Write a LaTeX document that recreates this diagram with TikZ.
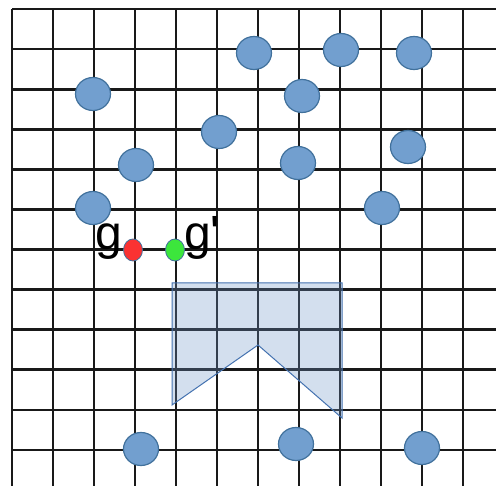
\documentclass[tikz,border=0pt]{standalone}
\usepackage{fontspec}
\setmainfont{Liberation Sans}
\usetikzlibrary{shapes.geometric}
\definecolor{dotfill}{RGB}{114,159,207}
\definecolor{dotline}{RGB}{65,113,156}
\definecolor{polyfill}{RGB}{112,150,200}
\definecolor{polyline}{RGB}{68,114,176}
\definecolor{redpt}{RGB}{250,50,50}
\definecolor{greenpt}{RGB}{60,230,60}
\tikzset{
  gridline/.style={line width=2.8pt, black!90},
  blob/.style={ellipse, draw=dotline, fill=dotfill, line width=1.2pt, minimum width=35pt, minimum height=33pt, inner sep=0pt},
  pt/.style={ellipse, draw=dotline, line width=0.8pt, minimum width=19pt, minimum height=22pt, inner sep=0pt},
  lbl/.style={font=\fontsize{48}{48}\selectfont, inner sep=0pt, anchor=base west},
  region/.style={draw=polyline, line width=1pt, fill=polyfill, fill opacity=0.3}
}
\begin{document}
\begin{tikzpicture}[x=1pt,y=-1pt]
\useasboundingbox (0,0) rectangle (496,486);
\fill[white] (0,0) rectangle (496,486);
% grid
\foreach \k in {0,...,11} {
  \draw[gridline] ({12+41*\k},9) -- ({12+41*\k},486);
  \draw[gridline] (12,{9+40.1*\k}) -- (496,{9+40.1*\k});
}
% region
\draw[region] (172,283) -- (342,283) -- (342,418) -- (258,345) -- (172,405) -- cycle;
% blobs
\node[blob] (b1) at (254,53) {};
\node[blob] (b2) at (341,50) {};
\node[blob] (b3) at (414,53) {};
\node[blob] (b4) at (93,94) {};
\node[blob] (b5) at (302,96) {};
\node[blob] (b6) at (219,132) {};
\node[blob] (b7) at (408,147) {};
\node[blob] (b8) at (136,165) {};
\node[blob] (b9) at (298,163) {};
\node[blob] (b10) at (93,208) {};
\node[blob] (b11) at (382,208) {};
\node[blob] (b12) at (141,449) {};
\node[blob] (b13) at (296,444) {};
\node[blob] (b14) at (422,448) {};
% points
\node[pt, fill=redpt] (g) at (133,250) {};
\node[pt, fill=greenpt] (gp) at (175,250) {};
\node[lbl] (lg) at (95,250) {g};
\node[lbl] (lgp) at (184,250) {g\textquotesingle};
\end{tikzpicture}
\end{document}
